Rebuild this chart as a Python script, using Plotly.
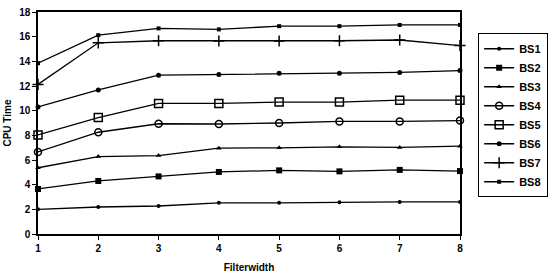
import plotly.graph_objects as go

filterwidth = [1, 2, 3, 4, 5, 6, 7, 8]
bs1 = [2.0, 2.19, 2.27, 2.53, 2.53, 2.58, 2.6, 2.6]
bs2 = [3.65, 4.3, 4.67, 5.03, 5.16, 5.08, 5.2, 5.1]
bs3 = [5.37, 6.28, 6.36, 6.96, 6.99, 7.07, 7.02, 7.12]
bs4 = [6.65, 8.25, 8.94, 8.92, 9.0, 9.13, 9.13, 9.2]
bs5 = [8.03, 9.44, 10.59, 10.59, 10.7, 10.7, 10.85, 10.85]
bs6 = [10.3, 11.68, 12.88, 12.94, 13.04, 13.04, 13.1, 13.25]
bs7 = [12.13, 15.5, 15.67, 15.65, 15.65, 15.67, 15.73, 15.28]
bs8 = [13.85, 16.12, 16.67, 16.59, 16.85, 16.85, 16.95, 16.95]

series = [
    ("BS1", bs1, dict(symbol="circle", size=4, color="black")),
    ("BS2", bs2, dict(symbol="square", size=6, color="black")),
    ("BS3", bs3, dict(symbol="triangle-up", size=5, color="black")),
    ("BS4", bs4, dict(symbol="circle-open", size=7, color="black", line=dict(width=1.5, color="black"))),
    ("BS5", bs5, dict(symbol="square-open", size=8, color="black", line=dict(width=1.5, color="black"))),
    ("BS6", bs6, dict(symbol="circle", size=5, color="black")),
    ("BS7", bs7, dict(symbol="cross-thin-open", size=8, color="black", line=dict(width=1.5, color="black"))),
    ("BS8", bs8, dict(symbol="square", size=4, color="black")),
]

fig = go.Figure()
for name, vals, mk in series:
    fig.add_trace(go.Scatter(x=filterwidth, y=vals, name=name, mode="lines+markers",
                             line=dict(color="black", width=1.3), marker=mk, cliponaxis=False))

ff = "Liberation Sans, Arial, sans-serif"
fig.update_layout(
    width=554, height=278,
    margin=dict(l=37, r=78, t=6, b=42),
    paper_bgcolor="white", plot_bgcolor="white",
    font=dict(family=ff, size=10, color="black"),
    showlegend=True,
    legend=dict(x=1.043, y=0.535, xanchor="left", yanchor="middle",
                bordercolor="black", borderwidth=1, bgcolor="white",
                font=dict(family=ff, size=11, color="black", weight="bold"),
                tracegroupgap=0, itemwidth=30),
    xaxis=dict(range=[1, 8], tickvals=filterwidth, showgrid=False, zeroline=False,
               showline=True, linecolor="black", linewidth=1.5, mirror=True,
               ticks="outside", ticklen=4, tickcolor="black",
               tickfont=dict(family=ff, size=10, weight="bold"),
               title=dict(text="Filterwidth", standoff=11,
                          font=dict(family=ff, size=10, weight="bold"))),
    yaxis=dict(range=[0, 18], tickvals=[0, 2, 4, 6, 8, 10, 12, 14, 16, 18], showgrid=False, zeroline=False,
               showline=True, linecolor="black", linewidth=1.5, mirror=True,
               ticks="outside", ticklen=4, tickcolor="black",
               tickfont=dict(family=ff, size=10, weight="bold"),
               title=dict(text="CPU Time", standoff=6,
                          font=dict(family=ff, size=10, weight="bold"))),
)

fig.write_html("out.html")
